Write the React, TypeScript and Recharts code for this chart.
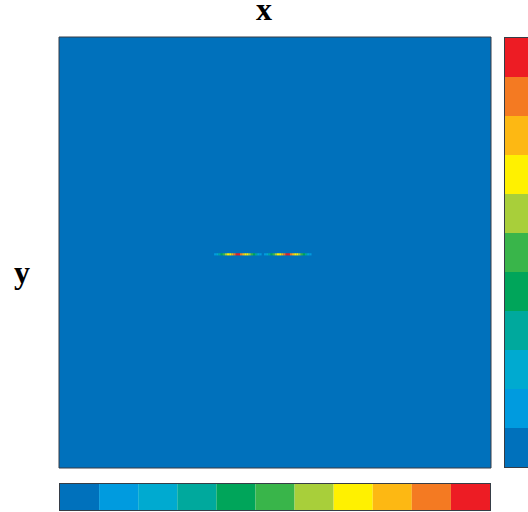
import { ComposedChart, BarChart, Bar, XAxis, YAxis, ReferenceArea } from 'recharts'

// colour bins, low -> high
const binColors = [
  '#0071BC',
  '#009BDF',
  '#00AAD0',
  '#00A99D',
  '#00A55A',
  '#39B54A',
  '#A8CF3A',
  '#FFF100',
  '#FDB813',
  '#F47A22',
  '#ED1C24',
]

// the thin band in the middle of the field: two segments on one row
const rowY = [-0.0135, -0.0035]
const cellWidth = 0.01
const segmentStarts = [-0.282, -0.051]
const segmentBins = [
  [1, 2, 3, 4, 5, 6, 7, 7, 8, 9, 10, 10, 9, 8, 7, 7, 6, 5, 4, 3, 2, 1],
  [1, 2, 3, 4, 5, 6, 7, 7, 8, 9, 10, 10, 9, 8, 7, 7, 6, 5, 4, 3, 2, 1],
]

const fieldDomain = [-1, 1]
const barKeys = binColors.map((_, i) => `b${i}`)
const barRow = [Object.fromEntries([['name', 'scale'], ...barKeys.map((k) => [k, 1])])]

const BORDER = '#363d46'

function Field() {
  const cells = segmentBins.flatMap((bins, s) =>
    bins.map((bin, i) => ({
      x1: segmentStarts[s] + i * cellWidth,
      x2: segmentStarts[s] + (i + 1) * cellWidth,
      fill: binColors[bin],
    }))
  )
  return (
    <ComposedChart
      width={528}
      height={512}
      data={[{ x: 0, y: 0 }]}
      margin={{ top: 37, right: 37, bottom: 44, left: 59 }}
    >
      <XAxis dataKey="x" type="number" domain={fieldDomain} hide />
      <YAxis dataKey="y" type="number" domain={fieldDomain} hide />
      <ReferenceArea
        x1={-1}
        x2={1}
        y1={-1}
        y2={1}
        fill={binColors[0]}
        fillOpacity={1}
        stroke={BORDER}
        strokeWidth={1}
      />
      {cells.map((c, i) => (
        <ReferenceArea
          key={i}
          x1={c.x1}
          x2={c.x2}
          y1={rowY[0]}
          y2={rowY[1]}
          fill={c.fill}
          fillOpacity={1}
          stroke="none"
        />
      ))}
    </ComposedChart>
  )
}

function ScaleBar({ vertical }: { vertical: boolean }) {
  const w = vertical ? 30 : 430
  const h = vertical ? 429 : 26
  return (
    <BarChart
      width={w}
      height={h}
      data={barRow}
      layout={vertical ? 'horizontal' : 'vertical'}
      margin={{ top: 0, right: 0, bottom: 0, left: 0 }}
      barCategoryGap={0}
    >
      {vertical ? (
        <>
          <XAxis dataKey="name" type="category" hide />
          <YAxis type="number" domain={[0, binColors.length]} hide />
        </>
      ) : (
        <>
          <XAxis type="number" domain={[0, binColors.length]} hide />
          <YAxis dataKey="name" type="category" hide />
        </>
      )}
      {barKeys.map((k, i) => (
        <Bar key={k} dataKey={k} stackId="s" fill={binColors[i]} isAnimationActive={false} />
      ))}
    </BarChart>
  )
}

const labelStyle = {
  position: 'absolute' as const,
  fontFamily: "'Liberation Serif', serif",
  fontWeight: 'bold' as const,
  fontSize: 32,
  lineHeight: '16px',
  height: 16,
  width: 30,
  textAlign: 'center' as const,
}

export default function App() {
  return (
    <div
      style={{
        position: 'absolute',
        left: 0,
        top: 0,
        width: 528,
        height: 512,
        overflow: 'hidden',
        background: '#fff',
      }}
    >
      <Field />
      <div style={{ position: 'absolute', left: 504, top: 37, border: `1px solid ${BORDER}`, lineHeight: 0 }}>
        <ScaleBar vertical />
      </div>
      <div style={{ position: 'absolute', left: 59, top: 483, border: `1px solid ${BORDER}`, lineHeight: 0 }}>
        <ScaleBar vertical={false} />
      </div>
      <div style={{ ...labelStyle, left: 249, top: 1 }}>x</div>
      <div style={{ ...labelStyle, left: 7, top: 264 }}>y</div>
    </div>
  )
}
